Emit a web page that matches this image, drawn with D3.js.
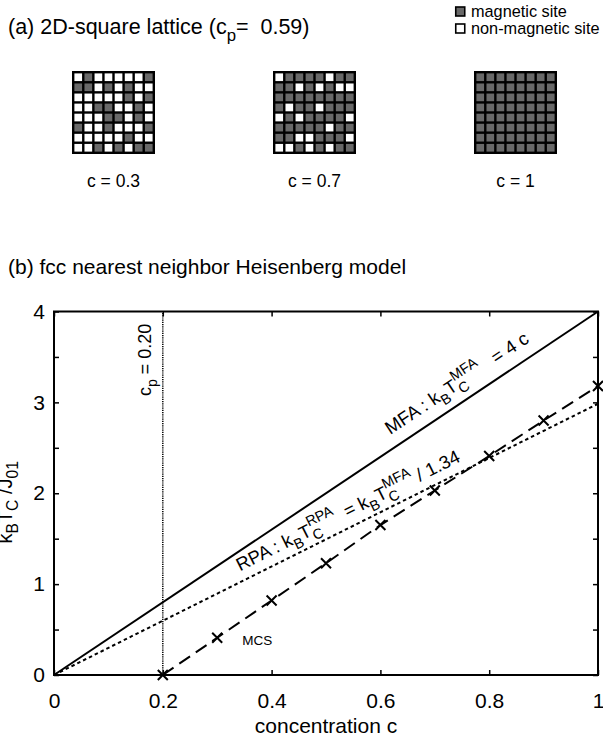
<!DOCTYPE html>
<html>
<head>
<meta charset="utf-8">
<script src="https://cdn.jsdelivr.net/npm/d3@7"></script>
<style>
  body { margin: 0; background: #fff; }
  svg { display: block; }
  text { font-family: "Liberation Sans", Arial, Helvetica, sans-serif; fill: #000; white-space: pre; }
</style>
</head>
<body>
<svg id="fig" width="603" height="749"></svg>
<script>
// ---- (a) lattice snapshots: 1 = magnetic site, 0 = non-magnetic site ----
const latticeConcentrations = ["0.3", "0.7", "1"];
const latticeC03 = [
  "01000001",
  "11010100",
  "00000101",
  "00110010",
  "00011010",
  "10010001",
  "00000100",
  "00101011"
];
const latticeC07 = [
  "01111011",
  "11010100",
  "11111111",
  "10110111",
  "01011110",
  "11111011",
  "11001110",
  "00101011"
];
const latticeC1 = [
  "11111111",
  "11111111",
  "11111111",
  "11111111",
  "11111111",
  "11111111",
  "11111111",
  "11111111"
];
const lattices = [latticeC03, latticeC07, latticeC1];
const squarePercolation = 0.59;

// ---- (b) fcc nearest-neighbour Heisenberg model ----
const mfaSlope = 4;          // k_B T_C^MFA = 4 c
const rpaRatio = 1.34;       // T_C^RPA = T_C^MFA / 1.34
const fccPercolation = 0.20;
const mcsConc = [0.2, 0.3, 0.4, 0.5, 0.6, 0.7, 0.8, 0.9, 1.0];
const mcsTc   = [0.0, 0.41, 0.82, 1.23, 1.65, 2.03, 2.41, 2.80, 3.18];
const xTicks = [0, 0.2, 0.4, 0.6, 0.8, 1];
const yTicks = [0, 0.5, 1, 1.5, 2, 2.5, 3, 3.5, 4];

const svg = d3.select("#fig");
const siteGray = "#696969";

// rich text helper: parts = [{t, sub?, sup?}] ; sub/sup are scripts attached after t
function richText(sel, parts, fs) {
  const text = sel.append("text").attr("font-size", fs);
  const subOff = 0.32 * fs, supOff = -0.5 * fs, sfs = 0.78 * fs;
  let shift = 0;
  parts.forEach(p => {
    if (p.t) {
      text.append("tspan").attr("dy", -shift).attr("font-size", fs).text(p.t);
      shift = 0;
    }
    let wSub = 0;
    if (p.sub) {
      const ts = text.append("tspan").attr("dy", subOff - shift).attr("font-size", sfs).text(p.sub);
      shift = subOff;
      wSub = ts.node().getComputedTextLength();
    }
    if (p.sup) {
      const ts = text.append("tspan").attr("dy", supOff - shift).attr("font-size", sfs)
        .attr("dx", p.sub ? -wSub : 0).text(p.sup);
      shift = supOff;
      const wSup = ts.node().getComputedTextLength();
      if (p.sub && wSub > wSup) ts.attr("dx", null);
    }
  });
  if (shift !== 0) text.append("tspan").attr("dy", -shift).text("");
  return text;
}

// ================= (a) =================
richText(svg.append("g").attr("transform", "translate(8,34)"),
  [{t: "(a) 2D-square lattice (c", sub: "p"}, {t: "=  " + squarePercolation.toFixed(2) + ")"}], 21.5);

// legend
const legendItems = [
  {label: "magnetic site", fill: siteGray},
  {label: "non-magnetic site", fill: "#fff"}
];
const legend = svg.append("g").attr("transform", "translate(455,3)");
legend.selectAll("g").data(legendItems).join("g")
  .attr("transform", (d, i) => `translate(0,${i * 17})`)
  .each(function(d) {
    const g = d3.select(this);
    g.append("rect").attr("x", 0.75).attr("y", 4).attr("width", 9).attr("height", 9)
      .attr("fill", d.fill).attr("stroke", "#000").attr("stroke-width", 1.6);
    g.append("text").attr("x", 16).attr("y", 13.5).attr("font-size", 16.3).text(d.label);
  });

// lattice grids
const gridSize = 83, nCell = 8, border = 2.4;
const cellSize = (gridSize - border * (nCell + 1)) / nCell;
const gridX = d3.scalePoint().domain(latticeConcentrations).range([113.5, 515.5]);
const gridTop = 71;
latticeConcentrations.forEach((c, k) => {
  const g = svg.append("g").attr("transform", `translate(${gridX(c) - gridSize / 2},${gridTop})`);
  g.append("rect").attr("width", gridSize).attr("height", gridSize).attr("fill", "#000");
  const cells = [];
  lattices[k].forEach((row, r) => row.split("").forEach((v, col) => cells.push({r, col, v: +v})));
  g.selectAll("rect.cell").data(cells).join("rect").attr("class", "cell")
    .attr("x", d => border + d.col * (cellSize + border))
    .attr("y", d => border + d.r * (cellSize + border))
    .attr("width", cellSize).attr("height", cellSize)
    .attr("fill", d => d.v ? siteGray : "#fff");
  svg.append("text").attr("x", gridX(c)).attr("y", 187).attr("text-anchor", "middle")
    .attr("font-size", 17.5).text("c = " + c);
});

// ================= (b) =================
richText(svg.append("g").attr("transform", "translate(8,274)"),
  [{t: "(b) fcc nearest neighbor Heisenberg model"}], 21);

const x = d3.scaleLinear().domain([0, 1]).range([54, 598]);
const y = d3.scaleLinear().domain([0, 4]).range([675, 311.5]);
const plot = svg.append("g");

// theory lines
const mfaLine = [0, 1].map(c => [c, mfaSlope * c]);
const rpaLine = [0, 1].map(c => [c, mfaSlope * c / rpaRatio]);
const line = d3.line().x(d => x(d[0])).y(d => y(d[1]));

plot.append("path").attr("d", line(mfaLine)).attr("fill", "none")
  .attr("stroke", "#000").attr("stroke-width", 2);
plot.append("path").attr("d", line(rpaLine)).attr("fill", "none")
  .attr("stroke", "#000").attr("stroke-width", 2).attr("stroke-dasharray", "3.5,3");

// percolation threshold
plot.append("path").attr("d", line([[fccPercolation, 0], [fccPercolation, 4]]))
  .attr("fill", "none").attr("stroke", "#000").attr("stroke-width", 1.5).attr("stroke-dasharray", "1.2,1");

// MCS data
const mcs = mcsConc.map((c, i) => [c, mcsTc[i]]);
plot.append("path").attr("d", line(mcs)).attr("fill", "none")
  .attr("stroke", "#000").attr("stroke-width", 2).attr("stroke-dasharray", "13,7");
const m = 5;
plot.selectAll("path.mark").data(mcs).join("path").attr("class", "mark")
  .attr("d", d => {
    const px = x(d[0]), py = y(d[1]);
    return `M${px - m},${py - m}L${px + m},${py + m}M${px - m},${py + m}L${px + m},${py - m}`;
  })
  .attr("stroke", "#000").attr("stroke-width", 2);

// axes (inward ticks, box frame)
function styleAxis(g) {
  g.attr("font-family", null).attr("font-size", 21);
  g.select(".domain").remove();
  g.selectAll(".tick line").attr("stroke", "#000").attr("stroke-width", 1.5);
  g.selectAll(".tick text").attr("fill", "#000");
}
const fmtX = d => d === 0 ? "0" : d === 1 ? "1" : d3.format(".1f")(d);
const fmtY = d => Number.isInteger(d) ? String(d) : "";
plot.append("g").attr("transform", `translate(0,${y(0)})`)
  .call(d3.axisBottom(x).tickValues(xTicks).tickFormat(fmtX).tickSizeInner(-5).tickSizeOuter(0).tickPadding(18))
  .call(styleAxis);
plot.append("g").attr("transform", `translate(0,${y(4)})`)
  .call(d3.axisTop(x).tickValues(xTicks).tickFormat("").tickSizeInner(-5).tickSizeOuter(0))
  .call(styleAxis);
plot.append("g").attr("transform", `translate(${x(0)},0)`)
  .call(d3.axisLeft(y).tickValues(yTicks).tickFormat(fmtY).tickSizeInner(-5).tickSizeOuter(0).tickPadding(9))
  .call(styleAxis);
plot.append("g").attr("transform", `translate(${x(1)},0)`)
  .call(d3.axisRight(y).tickValues(yTicks).tickFormat("").tickSizeInner(-5).tickSizeOuter(0))
  .call(styleAxis);
plot.append("rect").attr("x", x(0)).attr("y", y(4)).attr("width", x(1) - x(0)).attr("height", y(0) - y(4))
  .attr("fill", "none").attr("stroke", "#000").attr("stroke-width", 2);

// axis titles
svg.append("text").attr("x", (x(0) + x(1)) / 2).attr("y", 733).attr("text-anchor", "middle")
  .attr("font-size", 21).text("concentration c");
const yTitle = richText(svg.append("g").attr("transform", `translate(12,${y(1.9)}) rotate(-90)`),
  [{t: "k", sub: "B"}, {t: "T", sub: "C"}, {t: " /J", sub: "01"}], 20);
yTitle.attr("text-anchor", "middle");

// annotations
const angleOf = (x0, y0, x1, y1) => Math.atan2(y(y1) - y(y0), x(x1) - x(x0)) * 180 / Math.PI;
const mfaAngle = angleOf(0, 0, 1, mfaSlope);
const rpaAngle = angleOf(0, 0, 1, mfaSlope / rpaRatio);

richText(svg.append("g").attr("transform", `translate(${x(0.618)},${y(2.64)}) rotate(${mfaAngle})`),
  [{t: "MFA : k", sub: "B"}, {t: "T", sub: "C", sup: "MFA"}, {t: "   = 4 c"}], 18.5);
richText(svg.append("g").attr("transform", `translate(${x(0.342)},${y(1.14)}) rotate(${rpaAngle})`),
  [{t: "RPA : k", sub: "B"}, {t: "T", sub: "C", sup: "RPA"}, {t: "  = k", sub: "B"}, {t: "T", sub: "C", sup: "MFA"}, {t: " / 1.34"}], 18.5);
richText(svg.append("g").attr("transform", `translate(${x(0.179)},${y(3.07)}) rotate(-90)`),
  [{t: "c", sub: "p"}, {t: " = " + fccPercolation.toFixed(2)}], 18);
svg.append("text").attr("x", x(0.346)).attr("y", y(0.33)).attr("font-size", 13.5).text("MCS");
</script>
</body>
</html>
